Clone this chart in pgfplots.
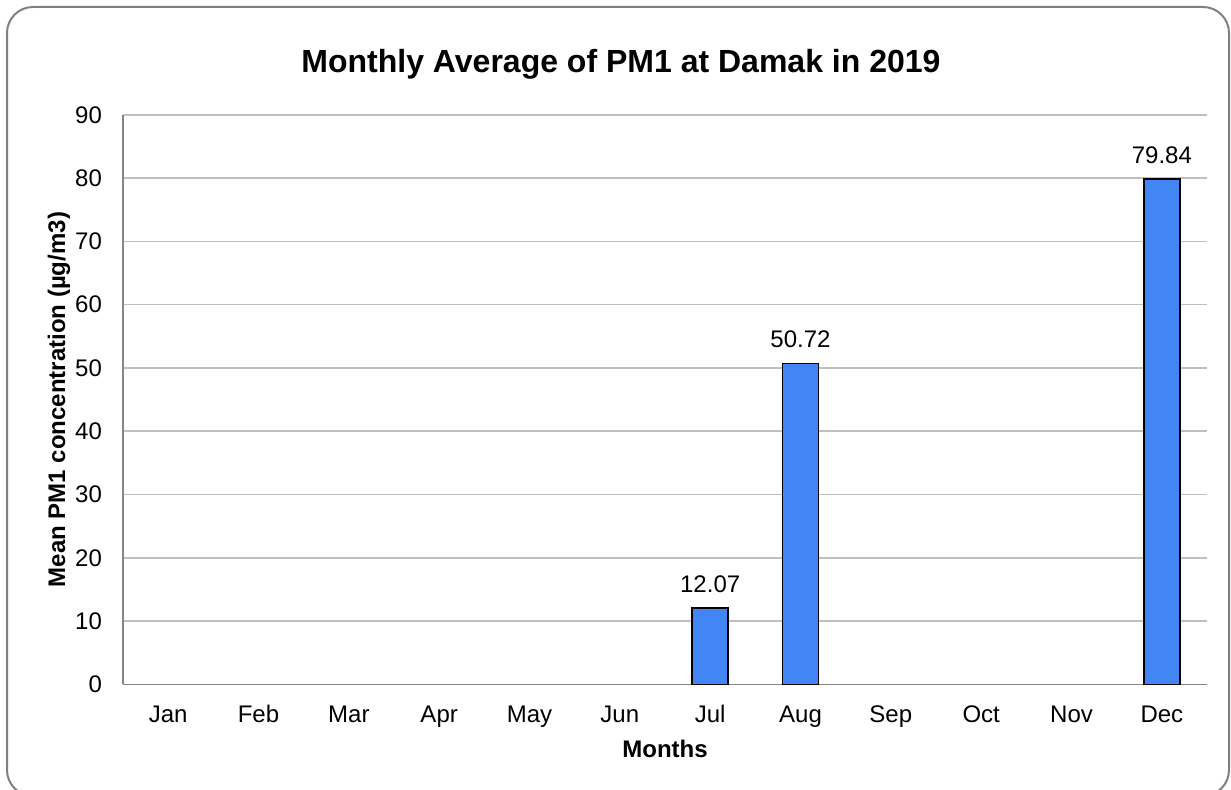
\documentclass[border=0pt]{standalone}
\usepackage{fontspec}
\setmainfont{Liberation Sans}
\usepackage{pgfplots}
\pgfplotsset{compat=1.18}
\definecolor{barblue}{RGB}{66,133,244}
\definecolor{gridgray}{RGB}{191,191,191}
\definecolor{axisgray}{RGB}{134,134,134}
\definecolor{framegray}{RGB}{128,128,128}

\begin{document}
\begin{tikzpicture}[x=1pt,y=1pt]
\useasboundingbox (0,0) rectangle (615.5,395);
\clip (0,0) rectangle (615.5,395);
\fill[white] (0,0) rectangle (615.5,395);
% outer chart frame (cut off at the bottom/right in the reference)
\draw[framegray, line width=1pt, rounded corners=13pt] (3.5,-3) rectangle (614.5,391.5);
\begin{axis}[
    at={(61.5pt,52.85pt)}, anchor=south west,
    scale only axis, width=542pt, height=284.7pt,
    xmin=-0.5, xmax=11.5, ymin=0, ymax=90,
    ybar, bar width=18pt,
    xtick={0,...,11},
    xticklabels={Jan,Feb,Mar,Apr,May,Jun,Jul,Aug,Sep,Oct,Nov,Dec},
    ytick={0,10,...,90},
    axis x line*=bottom, axis y line*=left,
    axis line style={axisgray, line width=0.75pt},
    ymajorgrids, grid style={gridgray, line width=0.75pt},
    major tick length=0pt,
    /pgf/number format/assume math mode=true,
    tick label style={font=\fontsize{12}{14}\selectfont},
    yticklabel style={xshift=-7pt},
    xticklabel style={anchor=north, text height=8.6pt, text depth=0pt, yshift=-7pt},
    xlabel={Months},
    ylabel={Mean PM1 concentration (µg/m3)},
    xlabel style={at={(axis description cs:0.5,-0.1142)}, anchor=center, font=\fontsize{12}{14}\selectfont\bfseries},
    ylabel style={at={(axis description cs:-0.059,0.5)}, anchor=center, font=\fontsize{12}{14}\selectfont\bfseries},
    title={Monthly Average of PM1 at Damak in 2019},
    every axis title shift=0pt,
    title style={at={(axis description cs:0.4594,1.0931)}, anchor=center, yshift=-1pt, font=\fontsize{16}{19}\selectfont\bfseries},
    nodes near coords,
    every node near coord/.append style={font=\fontsize{12}{14}\selectfont, yshift=4pt},
    clip=false,
]
\addplot[fill=barblue, draw=black, line width=0.75pt] coordinates {(6,12.07) (7,50.72) (11,79.84)};
\end{axis}
\end{tikzpicture}
\end{document}
